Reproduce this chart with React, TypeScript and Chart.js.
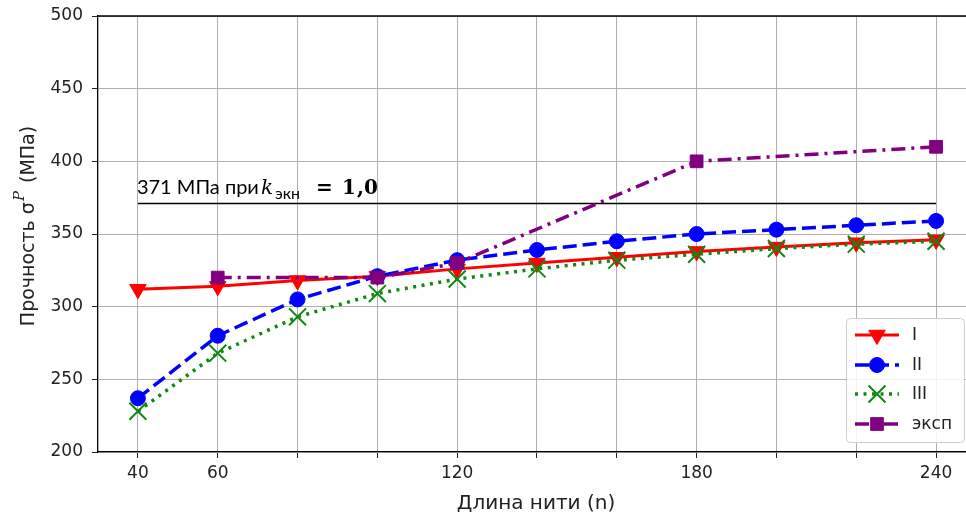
import React, { useEffect, useRef } from "react";
import { Chart, registerables } from "chart.js";

Chart.register(...registerables);

const xValues = [40, 60, 80, 100, 120, 140, 160, 180, 200, 220, 240];
const seriesI = [312, 314, 318, 321, 326, 330, 334, 338, 341, 344, 346];
const seriesII = [237, 280, 305, 321, 332, 339, 345, 350, 353, 356, 359];
const seriesIII = [228, 268, 293, 309, 319, 326, 332, 336, 340, 343, 345];
const expX = [60, 100, 120, 180, 240];
const expY = [320, 320, 330, 400, 410];
const xGridTicks = [40, 60, 80, 100, 120, 140, 160, 180, 200, 220, 240];
const xTickLabels = [40, 60, 120, 180, 240];
const refValue = 371;
const refFrom = 40;
const refTo = 240;
const seriesNames = ["I", "II", "III", "эксп"];

const RED = "#ff0000";
const BLUE = "#0000ff";
const GREEN = "#118811";
const PURPLE = "#800080";

const styles = [
  { color: RED, dash: [] as number[], width: 3, point: "triangle", radius: 9.5, rot: 180, bw: 1 },
  { color: BLUE, dash: [14, 6], width: 3.5, point: "circle", radius: 7.5, rot: 0, bw: 1 },
  { color: GREEN, dash: [3, 5.5], width: 3.5, point: "crossRot", radius: 12, rot: 0, bw: 2 },
  { color: PURPLE, dash: [14, 6, 3, 6], width: 3.5, point: "rect", radius: 9, rot: 0, bw: 1 },
];

function drawMarker(ctx: CanvasRenderingContext2D, style: string, x: number, y: number, r: number, rot: number) {
  ctx.beginPath();
  if (style === "triangle") {
    let rad = (rot * Math.PI) / 180;
    ctx.moveTo(x + Math.sin(rad) * r, y - Math.cos(rad) * r);
    rad += (2 * Math.PI) / 3;
    ctx.lineTo(x + Math.sin(rad) * r, y - Math.cos(rad) * r);
    rad += (2 * Math.PI) / 3;
    ctx.lineTo(x + Math.sin(rad) * r, y - Math.cos(rad) * r);
    ctx.closePath();
    ctx.fill();
    ctx.stroke();
  } else if (style === "circle") {
    ctx.arc(x, y, r, 0, Math.PI * 2);
    ctx.fill();
    ctx.stroke();
  } else if (style === "crossRot") {
    const o = Math.SQRT1_2 * r;
    ctx.moveTo(x - o, y - o);
    ctx.lineTo(x + o, y + o);
    ctx.moveTo(x - o, y + o);
    ctx.lineTo(x + o, y - o);
    ctx.stroke();
  } else {
    const o = Math.SQRT1_2 * r;
    ctx.rect(x - o, y - o, 2 * o, 2 * o);
    ctx.fill();
    ctx.stroke();
  }
}

const overlay = {
  id: "overlay",
  beforeDatasetsDraw(chart: any) {
    const { ctx, chartArea, scales } = chart;
    const x = scales.x, y = scales.y;
    ctx.save();
    ctx.strokeStyle = "#000";
    ctx.lineWidth = 1.3;
    ctx.beginPath();
    ctx.moveTo(chartArea.left, chartArea.top);
    ctx.lineTo(chartArea.right, chartArea.top);
    ctx.stroke();
    const yy = Math.round(y.getPixelForValue(refValue)) + 0.5;
    ctx.lineWidth = 1.5;
    ctx.beginPath();
    ctx.moveTo(x.getPixelForValue(refFrom), yy);
    ctx.lineTo(x.getPixelForValue(refTo), yy);
    ctx.stroke();
    ctx.restore();
  },
  afterDraw(chart: any) {
    const { ctx, scales } = chart;
    const x = scales.x, y = scales.y;
    ctx.save();
    // annotation text
    const x0 = x.getPixelForValue(refFrom) - 1;
    const base = y.getPixelForValue(refValue) - 9;
    ctx.fillStyle = "#000";
    ctx.textBaseline = "alphabetic";
    ctx.textAlign = "left";
    ctx.font = "20px Lato";
    ctx.fillText("371 МПа при", x0, base);
    ctx.font = "italic 20px 'DejaVu Serif'";
    ctx.fillText("k", x0 + 124, base);
    ctx.font = "16px Lato";
    ctx.fillText("экн", x0 + 138, base + 5);
    ctx.font = "bold 20px 'DejaVu Serif'";
    ctx.fillText("=", x0 + 179, base);
    ctx.fillText("1", x0 + 205, base);
    ctx.fillText(",", x0 + 220, base);
    ctx.fillText("0", x0 + 227, base);

    // y title
    ctx.save();
    ctx.translate(34, 226);
    ctx.rotate(-Math.PI / 2);
    ctx.textBaseline = "alphabetic";
    ctx.fillStyle = "#222";
    const f1 = "19px 'DejaVu Sans'";
    const f2 = "italic 15px 'DejaVu Serif'";
    const a = "Прочность σ", b = "P", c = " (МПа)";
    ctx.font = f1;
    const wa = ctx.measureText(a).width, wc = ctx.measureText(c).width;
    ctx.font = f2;
    const wb = ctx.measureText(b).width + 3;
    let sx = -(wa + wb + wc) / 2;
    ctx.font = f1;
    ctx.fillText(a, sx, 0);
    sx += wa;
    ctx.font = f2;
    ctx.fillText(b, sx + 1, -10);
    sx += wb;
    ctx.font = f1;
    ctx.fillText(c, sx, 0);
    ctx.restore();

    // x title
    ctx.font = "20px 'DejaVu Sans'";
    ctx.textAlign = "center";
    ctx.textBaseline = "alphabetic";
    ctx.fillStyle = "#222";
    ctx.fillText("Длина нити (n)", 536, 509);

    // legend
    const lx = 846, ly = 318, lw = 118, lh = 124;
    ctx.beginPath();
    (ctx as any).roundRect(lx + 0.5, ly + 0.5, lw, lh, 4);
    ctx.fillStyle = "rgba(255,255,255,0.85)";
    ctx.fill();
    ctx.strokeStyle = "#d0d0d0";
    ctx.lineWidth = 1;
    ctx.stroke();
    const rows = [335, 365, 394, 424];
    styles.forEach((s, i) => {
      const ry = rows[i];
      ctx.save();
      ctx.strokeStyle = s.color;
      ctx.lineWidth = s.width;
      ctx.setLineDash(s.dash);
      ctx.beginPath();
      ctx.moveTo(855, ry);
      ctx.lineTo(899, ry);
      ctx.stroke();
      ctx.setLineDash([]);
      ctx.fillStyle = s.color;
      ctx.strokeStyle = s.color;
      ctx.lineWidth = s.bw;
      drawMarker(ctx, s.point, 877, ry, s.radius, s.rot);
      ctx.restore();
      ctx.fillStyle = "#222";
      ctx.font = "17px 'DejaVu Sans'";
      ctx.textAlign = "left";
      ctx.textBaseline = "middle";
      ctx.fillText(seriesNames[i], 912, ry + 1);
    });
    ctx.restore();
  },
};

export default function App() {
  const ref = useRef<HTMLCanvasElement | null>(null);
  useEffect(() => {
    document.body.style.margin = "0";
    const canvas = ref.current!;
    const mk = (xs: number[], ys: number[]) => xs.map((v, i) => ({ x: v, y: ys[i] }));
    const all = [mk(xValues, seriesI), mk(xValues, seriesII), mk(xValues, seriesIII), mk(expX, expY)];
    const orders = [4, 3, 2, 1];
    const chart = new Chart(canvas, {
      type: "line",
      data: {
        datasets: all.map((d, i) => {
          const s = styles[i];
          return {
            label: seriesNames[i],
            data: d,
            order: orders[i],
            borderColor: s.color,
            backgroundColor: s.color,
            borderWidth: s.width,
            borderDash: s.dash,
            pointStyle: s.point as any,
            pointRadius: s.radius,
            pointRotation: s.rot,
            pointBorderWidth: s.bw,
            pointBackgroundColor: s.color,
            pointBorderColor: s.color,
            tension: 0,
            fill: false,
          };
        }),
      },
      options: {
        animation: false,
        responsive: false,
        layout: { autoPadding: false, padding: { top: 16, right: 0, left: 0, bottom: 0 } },
        plugins: { legend: { display: false }, tooltip: { enabled: false } },
        scales: {
          x: {
            type: "linear",
            min: 30,
            max: 247.5,
            afterBuildTicks: (scale: any) => {
              scale.ticks = xGridTicks.map((v) => ({ value: v }));
            },
            afterFit: (scale: any) => {
              scale.height = 63;
              scale.paddingLeft = 0;
              scale.paddingRight = 0;
            },
            ticks: {
              autoSkip: false,
              maxRotation: 0,
              padding: 5,
              color: "#222",
              font: { family: "DejaVu Sans", size: 17 },
              callback: (v: any) => (xTickLabels.includes(Number(v)) ? String(v) : ""),
            },
            grid: { color: "#b0b0b0", lineWidth: 1, tickColor: "#222", tickLength: 6 },
            border: { display: true, color: "#000", width: 1.3 },
          },
          y: {
            min: 200,
            max: 500,
            afterFit: (scale: any) => {
              scale.width = 98;
              scale.paddingTop = 0;
              scale.paddingBottom = 0;
            },
            ticks: {
              stepSize: 50,
              padding: 9,
              color: "#222",
              font: { family: "DejaVu Sans", size: 17 },
            },
            grid: { color: "#b0b0b0", lineWidth: 1, tickColor: "#222", tickLength: 6 },
            border: { display: true, color: "#000", width: 1.3 },
          },
        },
      },
      plugins: [overlay],
    });
    return () => chart.destroy();
  }, []);
  return <canvas ref={ref} width={966} height={515} style={{ display: "block" }} />;
}
